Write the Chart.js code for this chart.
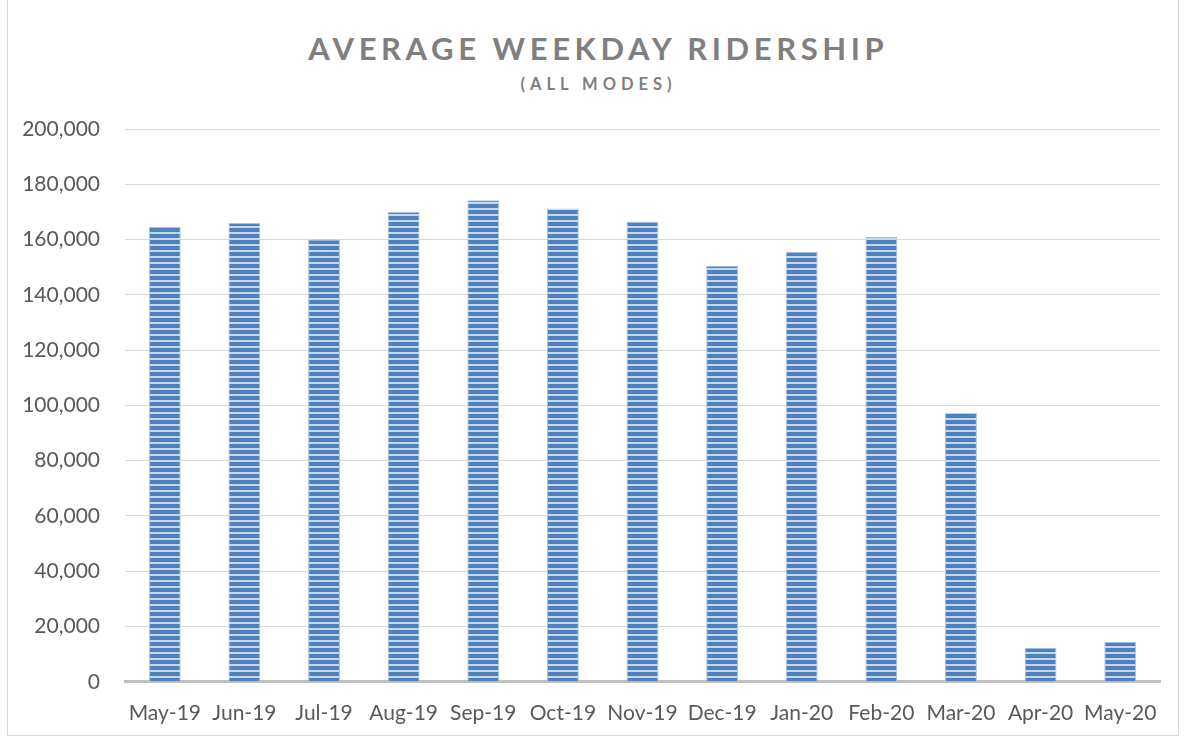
<!DOCTYPE html>
<html>
<head>
<meta charset="utf-8">
<script src="https://cdn.jsdelivr.net/npm/chart.js@4/dist/chart.umd.min.js"></script>
<style>
  html, body { margin: 0; padding: 0; background: #fff; }
  #wrap { position: relative; width: 1184px; height: 740px; overflow: hidden; }
  #frame { position: absolute; left: 7px; top: -1px; width: 1172px; height: 737px; border: 1px solid #d9d9d9; box-sizing: border-box; }
  .t { position: absolute; left: 4px; width: 1184px; text-align: center; font-family: Lato, "Open Sans", sans-serif; font-weight: bold; color: #7f7f7f; box-sizing: border-box; }
  #title { top: 29px; font-size: 31px; letter-spacing: 4.6px; padding-left: 4.6px; }
  #sub { top: 74px; font-size: 16.5px; letter-spacing: 5px; padding-left: 5px; }
  canvas { position: absolute; left: 0; top: 0; }
</style>
</head>
<body>
<div id="wrap">
  <div id="frame"></div>
  <div class="t" id="title">AVERAGE WEEKDAY RIDERSHIP</div>
  <div class="t" id="sub">(ALL MODES)</div>
  <canvas id="ridership" width="1184" height="740"></canvas>
</div>
<script>
/* ================= DATA ================= */

const months = ['May-19', 'Jun-19', 'Jul-19', 'Aug-19', 'Sep-19', 'Oct-19', 'Nov-19',
  'Dec-19', 'Jan-20', 'Feb-20', 'Mar-20', 'Apr-20', 'May-20'];
const riders = [164500, 166000, 160000, 170000, 174200, 171200, 166400,
  150500, 155600, 161000, 97300, 12300, 14500];
const yTicks = [0, 20000, 40000, 60000, 80000, 100000, 120000, 140000, 160000, 180000, 200000];

/* ================= STRIPE PATTERN ================= */

function stripes() {
  const c = document.createElement('canvas');
  c.width = 8; c.height = 6;
  const g = c.getContext('2d');
  g.fillStyle = '#4f81bd';
  g.fillRect(0, 0, 8, 6);
  g.fillStyle = '#c6d6ec';
  g.fillRect(0, 4, 8, 2);
  return g.createPattern(c, 'repeat');
}

/* ================= CHART ================= */

Chart.defaults.font.family = 'Lato, "Open Sans", sans-serif';
Chart.defaults.color = '#595959';

new Chart(document.getElementById('ridership'), {
  type: 'bar',
  data: {
    labels: months,
    datasets: [{
      data: riders,
      backgroundColor: stripes(),
      borderColor: '#a9c1e2',
      borderWidth: 1,
      barPercentage: 0.4,
      categoryPercentage: 1
    }]
  },
  options: {
    responsive: false,
    animation: false,
    layout: { padding: { top: 129, right: 24, bottom: 3, left: 22 } },
    plugins: { legend: { display: false }, tooltip: { enabled: false } },
    scales: {
      x: {
        grid: { display: false },
        border: { display: true, color: '#bfbfbf', width: 3 },
        ticks: { font: { size: 21 }, padding: 11, maxRotation: 0, autoSkip: false }
      },
      y: {
        min: 0,
        max: 200000,
        afterBuildTicks: axis => { axis.ticks = yTicks.map(v => ({ value: v })); },
        afterFit: axis => { axis.width = 103; },
        grid: { color: '#d9d9d9', lineWidth: 1, drawTicks: false },
        border: { display: false },
        ticks: {
          font: { size: 21 },
          padding: 25,
          callback: v => v.toLocaleString('en-US')
        }
      }
    }
  }
});
</script>
</body>
</html>
